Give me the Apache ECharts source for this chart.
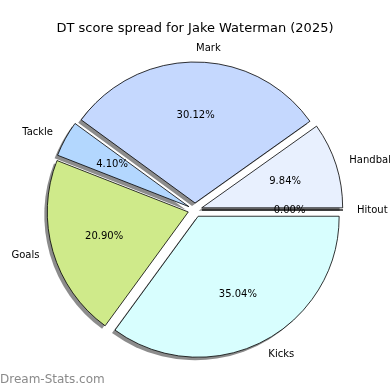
<!DOCTYPE html>
<html><head><meta charset="utf-8">
<script src="https://cdn.jsdelivr.net/npm/echarts@6/dist/echarts.min.js"></script>
<style>html,body{margin:0;padding:0;background:#fff}#c{width:390px;height:390px}</style>
</head><body><div id="c"></div>
<script>
const categories = ['Hitout', 'Handball', 'Mark', 'Tackle', 'Goals', 'Kicks'];
const percents = [0.00, 9.84, 30.12, 4.10, 20.90, 35.04];
const colors = ['#d8fefe', '#e8f0fe', '#c5d8fe', '#b3d7fe', '#cfea8a', '#d8fefe'];

const R = 141, D = 7;
const font = 'DejaVu Sans';
const mk = (withStyle) => categories.map((n, i) => ({
  name: n, value: percents[i], selected: true,
  itemStyle: withStyle ? { color: colors[i] } : undefined
}));
const base = {
  type: 'pie', center: [195, 210],
  startAngle: 0, clockwise: false, minAngle: 0,
  selectedMode: 'multiple', selectedOffset: D,
  avoidLabelOverlap: false, stillShowZeroSum: true,
  emphasis: { disabled: true }, silent: true
};
const clear = 'rgba(0,0,0,0)';
const chart = echarts.init(document.getElementById('c'), null, {renderer: 'canvas'});
chart.setOption({
  animation: false,
  title: {
    text: 'DT score spread for Jake Waterman (2025)', left: 'center', top: 17,
    textStyle: { fontFamily: font, fontSize: 13, fontWeight: 'normal', color: '#000' }
  },
  graphic: [{
    type: 'text', left: 0, top: 374,
    style: { text: 'Dream-Stats.com', fill: '#8a8a8a', font: '12px "DejaVu Sans"' }
  }],
  series: [Object.assign({}, base, {
    radius: [0, R],
    itemStyle: { borderWidth: 0,
      shadowColor: 'rgba(0,0,0,0.45)', shadowOffsetX: -3, shadowOffsetY: 3, shadowBlur: 0 },
    label: { show: false }, labelLine: { show: false },
    data: mk(true)
  }), Object.assign({}, base, {
    radius: [0, R],
    itemStyle: { color: clear, borderColor: '#000', borderWidth: 0.8 },
    select: { itemStyle: { color: clear, borderColor: '#000', borderWidth: 0.8 } },
    label: { show: true, position: 'outside', fontFamily: font, fontSize: 10, color: '#000',
      distanceToLabelLine: 0, formatter: '{b}' },
    labelLine: { show: false, length: 14, length2: 0 },
    data: mk(false)
  }), Object.assign({}, base, {
    radius: [0.2 * R, R],
    itemStyle: { color: clear, borderWidth: 0 },
    select: { itemStyle: { color: clear, borderWidth: 0 } },
    label: { show: true, position: 'inside', fontFamily: font, fontSize: 10, color: '#000',
      formatter: p => p.value.toFixed(2) + '%' },
    labelLine: { show: false },
    data: mk(false)
  })]
});
</script></body></html>
